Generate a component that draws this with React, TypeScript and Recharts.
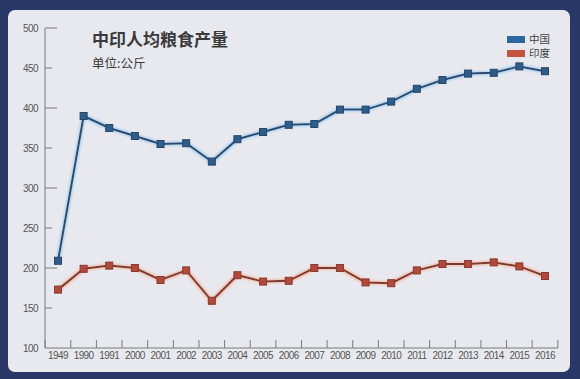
import React from 'react';
import { LineChart, Line, XAxis, YAxis, Legend } from 'recharts';

const years = ['1949','1990','1991','2000','2001','2002','2003','2004','2005','2006','2007','2008','2009','2010','2011','2012','2013','2014','2015','2016'];
const china = [209,390,375,365,355,356,333,361,370,379,380,398,398,408,424,435,443,444,452,446];
const india = [173,199,203,200,185,197,159,191,183,184,200,200,182,181,197,205,205,207,202,190];
const yTicks = [100,150,200,250,300,350,400,450,500];

const data = years.map((y, i) => ({ year: y, china: china[i], india: india[i] }));

const HALF = 12.83;
const AXIS = '#7b7b7b';
const TICK_FONT = '"Liberation Sans", Arial, sans-serif';

function XTick(props: any) {
  const { x, y, payload, index } = props;
  const axisY = y - 4;
  return (
    <g>
      <line x1={x - HALF} x2={x - HALF} y1={axisY} y2={axisY - 8} stroke={AXIS} strokeWidth={1} />
      {index === years.length - 1 && (
        <line x1={x + HALF} x2={x + HALF} y1={axisY} y2={axisY - 8} stroke={AXIS} strokeWidth={1} />
      )}
      <text x={x} y={y} dy="0.71em" textAnchor="middle" fontSize={10} letterSpacing={-0.6} fill="#555" fontFamily={TICK_FONT}>
        {payload.value}
      </text>
    </g>
  );
}

function YTick(props: any) {
  const { x, y, payload } = props;
  const axisX = x + 7;
  const major = payload.value % 100 === 0;
  return (
    <g>
      {payload.value !== 100 && (
        <line x1={axisX} x2={axisX + (major ? 12 : 7)} y1={y} y2={y} stroke={AXIS} strokeWidth={1} />
      )}
      <text x={x} y={y} dy="0.35em" textAnchor="end" fontSize={10} letterSpacing={-0.6} fill="#555" fontFamily={TICK_FONT}>
        {payload.value}
      </text>
    </g>
  );
}

const ChinaDot = (p: any) => (
  <rect key={`c${p.index}`} x={p.cx - 3.5} y={p.cy - 3.5} width={7} height={7} fill="#2f5d89" stroke="#23466b" strokeWidth={1} />
);
const IndiaDot = (p: any) => (
  <rect key={`i${p.index}`} x={p.cx - 3.5} y={p.cy - 3.5} width={7} height={7} fill="#b3483b" stroke="#8a3a2f" strokeWidth={1} />
);

const legendItems = [
  { label: '中国', color: '#2a67a3' },
  { label: '印度', color: '#c4533f' },
];

const LegendContent = () => (
  <div style={{ fontFamily: '"Noto Sans CJK SC", sans-serif', fontSize: 10.5, color: '#444' }}>
    {legendItems.map((it) => (
      <div key={it.label} style={{ display: 'flex', alignItems: 'center', height: 14, lineHeight: '14px' }}>
        <span style={{ display: 'inline-block', width: 18, height: 7, background: it.color, marginRight: 4 }} />
        <span>{it.label}</span>
      </div>
    ))}
  </div>
);

export default function App() {
  return (
    <div style={{ position: 'absolute', left: 0, top: 0, width: 580, height: 379, background: '#293866', overflow: 'hidden' }}>
      <svg width={0} height={0} style={{ position: 'absolute' }}>
        <defs>
          <filter id="glowB" filterUnits="userSpaceOnUse" x={0} y={0} width={580} height={379}>
            <feMorphology in="SourceAlpha" operator="dilate" radius={1} result="d" />
            <feGaussianBlur in="d" stdDeviation={1.3} result="b" />
            <feFlood floodColor="#8cc3ef" floodOpacity={0.7} />
            <feComposite in2="b" operator="in" result="g" />
            <feMerge>
              <feMergeNode in="g" />
              <feMergeNode in="SourceGraphic" />
            </feMerge>
          </filter>
          <filter id="glowR" filterUnits="userSpaceOnUse" x={0} y={0} width={580} height={379}>
            <feMorphology in="SourceAlpha" operator="dilate" radius={1} result="d" />
            <feGaussianBlur in="d" stdDeviation={1.3} result="b" />
            <feFlood floodColor="#f6a98c" floodOpacity={0.7} />
            <feComposite in2="b" operator="in" result="g" />
            <feMerge>
              <feMergeNode in="g" />
              <feMergeNode in="SourceGraphic" />
            </feMerge>
          </filter>
        </defs>
      </svg>
      <div style={{ position: 'absolute', left: 8, top: 10, width: 562, height: 362, background: '#e8e9ee', borderRadius: 7 }} />
      <div style={{ position: 'absolute', left: 0, top: 0 }}>
        <LineChart width={580} height={379} data={data} margin={{ top: 28, right: 22, bottom: 11, left: 0 }}>
          <XAxis
            dataKey="year"
            interval={0}
            padding={{ left: 13, right: 13 }}
            tickSize={0}
            tickMargin={4}
            tickLine={false}
            stroke={AXIS}
            height={20}
            tick={<XTick />}
          />
          <YAxis
            domain={[100, 500]}
            ticks={yTicks}
            tickSize={0}
            tickMargin={7}
            tickLine={false}
            stroke={AXIS}
            width={45}
            tick={<YTick />}
          />
          <Legend
            layout="horizontal"
            verticalAlign="middle"
            align="center"
            wrapperStyle={{ top: 32, left: 507, width: 60 }}
            content={<LegendContent />}
          />
          <Line
            dataKey="china"
            name="中国"
            stroke="#2c4a6c"
            strokeWidth={2}
            dot={ChinaDot}
            activeDot={false}
            isAnimationActive={false}
            filter="url(#glowB)"
          />
          <Line
            dataKey="india"
            name="印度"
            stroke="#7c3a30"
            strokeWidth={2}
            dot={IndiaDot}
            activeDot={false}
            isAnimationActive={false}
            filter="url(#glowR)"
          />
        </LineChart>
      </div>
      <div style={{ position: 'absolute', left: 92, top: 29, fontFamily: '"Noto Sans CJK SC", sans-serif', fontSize: 17, fontWeight: 700, color: '#3a3a3a', lineHeight: '20px', whiteSpace: 'nowrap' }}>
        中印人均粮食产量
      </div>
      <div style={{ position: 'absolute', left: 92, top: 55, fontFamily: '"Noto Sans CJK SC", sans-serif', fontSize: 12.5, color: '#3a3a3a', lineHeight: '16px', whiteSpace: 'nowrap' }}>
        单位:公斤
      </div>
    </div>
  );
}
